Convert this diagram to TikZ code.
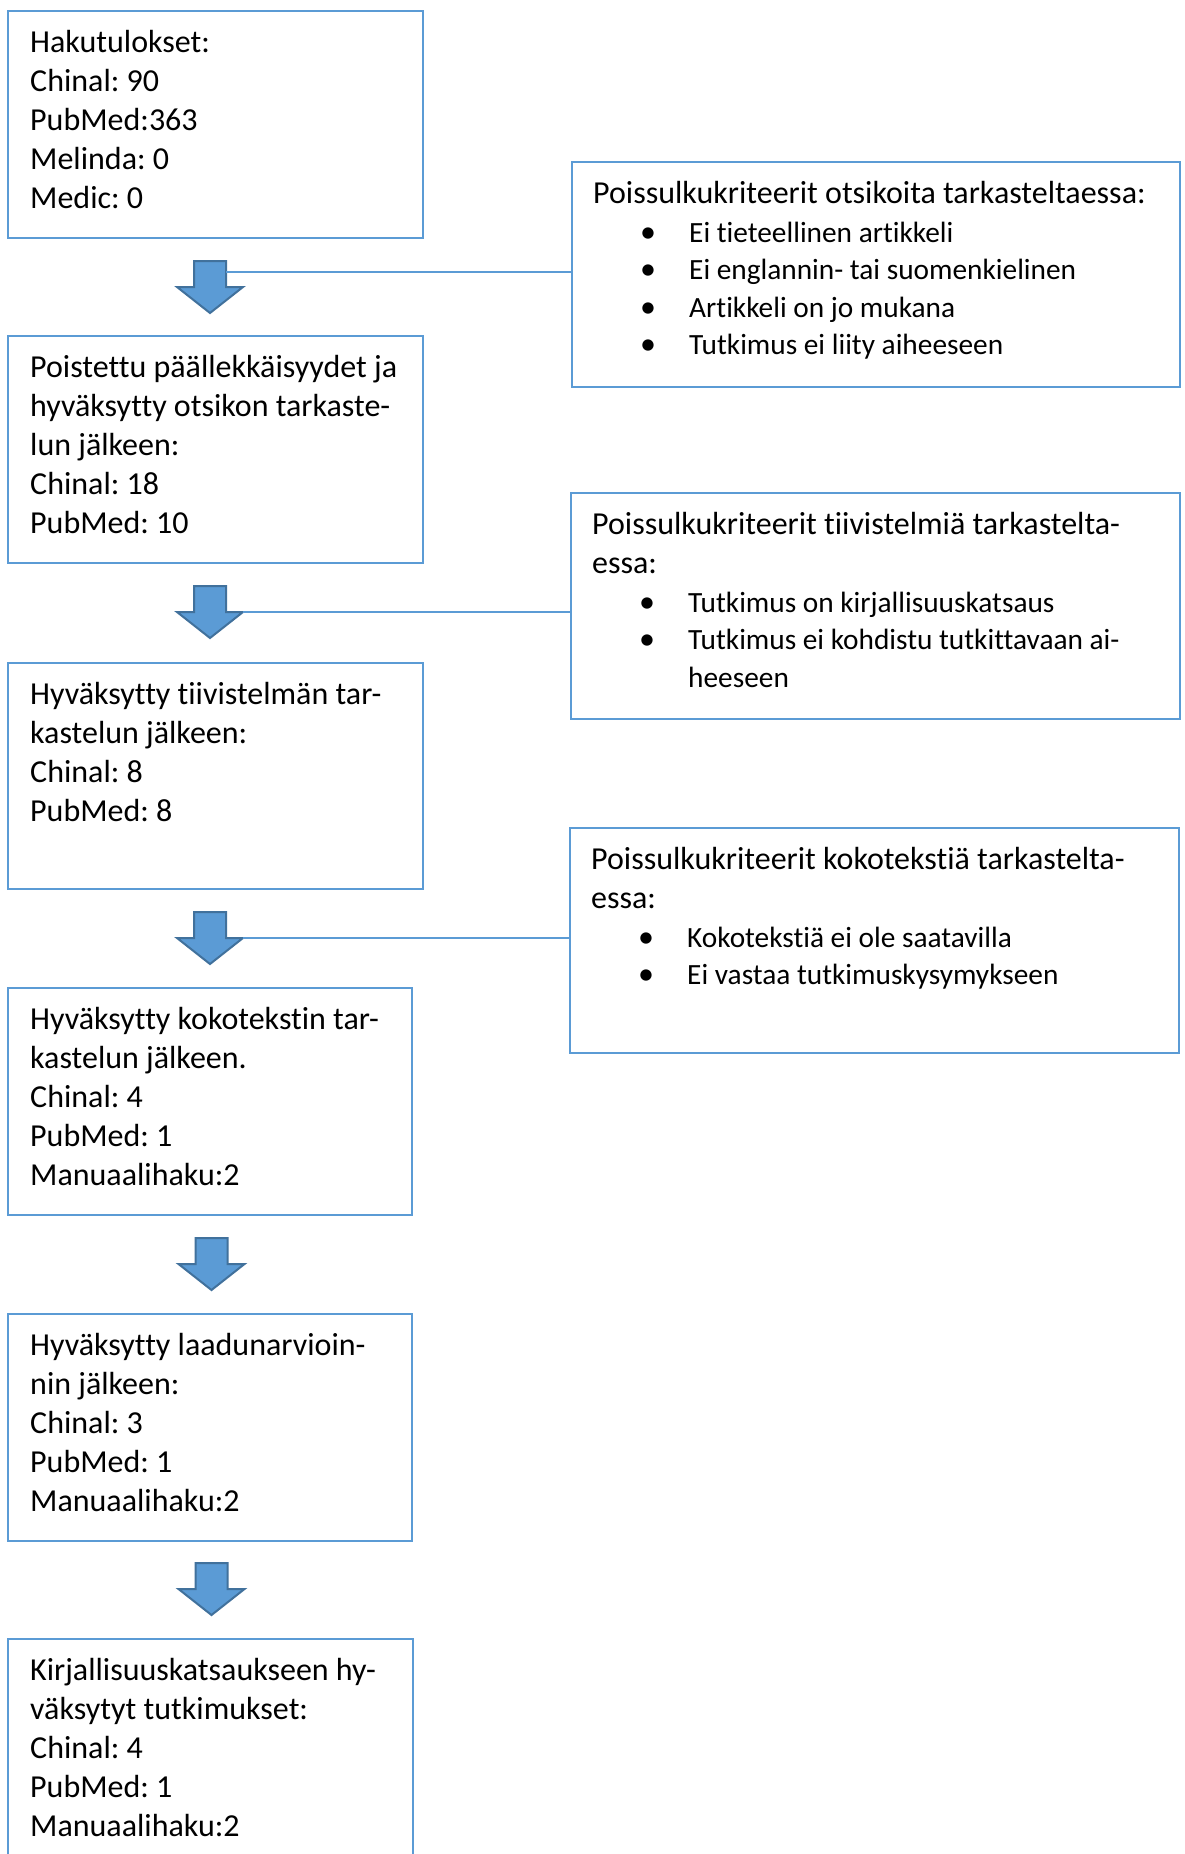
\documentclass[tikz,border=0pt]{standalone}
\usepackage{fontspec}
\setmainfont[Ligatures=NoCommon]{Carlito}
\definecolor{boxblue}{HTML}{5B9BD5}
\definecolor{arrowedge}{HTML}{41719C}
\newcommand\fstrut{\rule{0pt}{27pt}}
\newcommand\itm[1]{\hspace*{47pt}\makebox[49pt][l]{\textbullet}{\fontsize{29.33pt}{39pt}\selectfont #1}}
\newcommand\blockarrow[3]{%
  \draw[blockarr] (#2-16,#3) -- (#2+16,#3) -- (#2+16,#3+26) -- (#2+33,#3+26)
    -- (#2,#3+52) -- (#2-33,#3+26) -- (#2-16,#3+26) -- cycle;
  \coordinate (#1s) at (#2+16,#3+11);
  \coordinate (#1w) at (#2+33,#3+26);}
\frenchspacing
\begin{document}
\begin{tikzpicture}[x=1pt,y=-1pt,
  lbox/.style={draw=boxblue, line width=2pt, inner sep=0pt, outer sep=0pt, anchor=north west},
  txt/.style={anchor=north west, inner sep=0pt, align=left, font=\fontsize{32pt}{39pt}\selectfont\frenchspacing},
  blockarr/.style={fill=boxblue, draw=arrowedge, line width=2pt, line join=miter},
  conn/.style={draw=boxblue, line width=1.3pt}]
\useasboundingbox (0,0) rectangle (1184,1854);
\clip (0,0) rectangle (1184,1854);
\fill[white] (0,0) rectangle (1184,1854);

% left column boxes
\node[lbox, minimum width=415pt, minimum height=227pt] (b1) at (8,11) {};
\node[lbox, minimum width=415pt, minimum height=227pt] (b2) at (8,336) {};
\node[lbox, minimum width=415pt, minimum height=226pt] (b3) at (8,663) {};
\node[lbox, minimum width=404pt, minimum height=227pt] (b4) at (8,988) {};
\node[lbox, minimum width=404pt, minimum height=227pt] (b5) at (8,1314) {};
\node[lbox, minimum width=405pt, minimum height=227pt] (b6) at (8,1639) {};

\node[txt] (t1) at ([shift={(22,14)}]b1.north west) {\fstrut Hakutulokset:\\Chinal: 90\\PubMed:363\\Melinda: 0\\Medic: 0};
\node[txt] (t2) at ([shift={(22,14)}]b2.north west) {\fstrut Poistettu päällekkäisyydet ja\\hyväksytty otsikon tarkaste-\\lun jälkeen:\\Chinal: 18\\PubMed: 10};
\node[txt] (t3) at ([shift={(22,14)}]b3.north west) {\fstrut Hyväksytty tiivistelmän tar-\\kastelun jälkeen:\\Chinal: 8\\PubMed: 8};
\node[txt] (t4) at ([shift={(22,14)}]b4.north west) {\fstrut Hyväksytty kokotekstin tar-\\kastelun jälkeen.\\Chinal: 4\\PubMed: 1\\Manuaalihaku:2};
\node[txt] (t5) at ([shift={(22,14)}]b5.north west) {\fstrut Hyväksytty laadunarvioin-\\nin jälkeen:\\Chinal: 3\\PubMed: 1\\Manuaalihaku:2};
\node[txt] (t6) at ([shift={(22,14)}]b6.north west) {\fstrut Kirjallisuuskatsaukseen hy-\\väksytyt tutkimukset:\\Chinal: 4\\PubMed: 1\\Manuaalihaku:2};

% right column boxes
\node[lbox, minimum width=608pt, minimum height=225pt] (r1) at (572,162) {};
\node[lbox, minimum width=609pt, minimum height=226pt] (r2) at (571,493) {};
\node[lbox, minimum width=609pt, minimum height=225pt] (r3) at (570,828) {};

\node[txt] (u1) at ([shift={(21,14)}]r1.north west) {\fstrut Poissulkukriteerit otsikoita tarkasteltaessa:\\
  \itm{Ei tieteellinen artikkeli}\\[-1.5pt]
  \itm{Ei englannin- tai suomenkielinen}\\[-1.5pt]
  \itm{Artikkeli on jo mukana}\\[-1.5pt]
  \itm{Tutkimus ei liity aiheeseen}};
\node[txt] (u2) at ([shift={(21,14)}]r2.north west) {\fstrut Poissulkukriteerit tiivistelmiä tarkastelta-\\essa:\\
  \itm{Tutkimus on kirjallisuuskatsaus}\\[-1.5pt]
  \itm{Tutkimus ei kohdistu tutkittavaan ai-}\\[-1.5pt]
  \hspace*{96pt}{\fontsize{29.33pt}{39pt}\selectfont heeseen}};
\node[txt] (u3) at ([shift={(21,14)}]r3.north west) {\fstrut Poissulkukriteerit kokotekstiä tarkastelta-\\essa:\\
  \itm{Kokotekstiä ei ole saatavilla}\\[-1.5pt]
  \itm{Ei vastaa tutkimuskysymykseen}};

% block arrows
\blockarrow{a1}{210}{261}
\blockarrow{a2}{210}{586}
\blockarrow{a3}{210}{912}
\blockarrow{a4}{211.5}{1238}
\blockarrow{a5}{211.5}{1563}

% connectors to the exclusion boxes
\draw[conn] (a1s) -- (a1s -| r1.west);
\draw[conn] (a2w) -- (a2w -| r2.west);
\draw[conn] (a3w) -- (a3w -| r3.west);
\end{tikzpicture}
\end{document}
